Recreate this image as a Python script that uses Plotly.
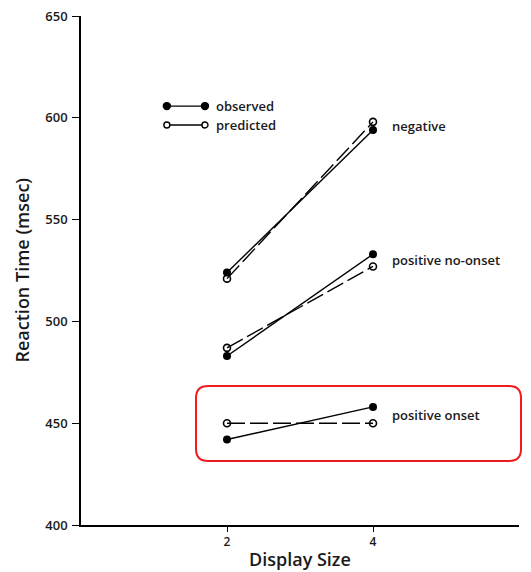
import plotly.graph_objects as go

display_sizes = [2, 4]
negative_observed = [524, 594]
negative_predicted = [521, 598]
no_onset_observed = [483, 533]
no_onset_predicted = [487, 527]
onset_observed = [442, 458]
onset_predicted = [450, 450]

condition_names = ["negative", "positive no-onset", "positive onset"]
observed_series = [negative_observed, no_onset_observed, onset_observed]
predicted_series = [negative_predicted, no_onset_predicted, onset_predicted]

y_ticks = [400, 450, 500, 550, 600, 650]
x_ticks = [2, 4]

FONT = "Open Sans, Liberation Sans, Arial, sans-serif"
TXT = "#1a1a1a"

fig = go.Figure()

for name, obs, pred in zip(condition_names, observed_series, predicted_series):
    fig.add_trace(go.Scatter(
        x=display_sizes, y=pred, mode="lines+markers", name=name + " predicted",
        line=dict(color="black", width=1.4, dash="18px,5px"),
        marker=dict(symbol="circle-open", size=7, color="black", line=dict(width=1.6)),
        showlegend=False, cliponaxis=False))
    fig.add_trace(go.Scatter(
        x=display_sizes, y=obs, mode="lines+markers", name=name + " observed",
        line=dict(color="black", width=1.4),
        marker=dict(symbol="circle", size=8, color="black"),
        showlegend=False, cliponaxis=False))
    fig.add_annotation(
        x=display_sizes[1], y=(obs[1] + pred[1]) / 2, text=name,
        xref="x", yref="y", xanchor="left", yanchor="middle", xshift=17,
        showarrow=False, font=dict(family=FONT, size=13, color=TXT, weight=600))

# custom legend (observed / predicted)
legend_rows = [("observed", "circle", 0.823), ("predicted", "circle-open", 0.786)]
for label, sym, yp in legend_rows:
    fig.add_shape(type="line", xref="paper", yref="paper",
                  x0=0.196, x1=0.283, y0=yp, y1=yp,
                  line=dict(color="black", width=1.4))
    for xp in (0.196, 0.283):
        filled = sym == "circle"
        r = 3.5 if filled else 3
        fig.add_shape(type="circle", xref="paper", yref="paper",
                      xsizemode="pixel", ysizemode="pixel",
                      xanchor=xp, yanchor=yp, x0=-r, x1=r, y0=-r, y1=r,
                      fillcolor="black" if filled else "white",
                      line=dict(color="black", width=1.4))
    fig.add_annotation(x=0.304, y=yp, xref="paper", yref="paper", text=label,
                       xanchor="left", yanchor="middle", showarrow=False,
                       font=dict(family=FONT, size=13, color=TXT, weight=600))

# red rounded highlight box (paper coords)
x0, x1, y0, y1 = 0.2626, 1.0046, 0.1257, 0.273
rx, ry = 0.0274, 0.0236
path = (f"M {x0+rx},{y1} L {x1-rx},{y1} Q {x1},{y1} {x1},{y1-ry} "
        f"L {x1},{y0+ry} Q {x1},{y0} {x1-rx},{y0} "
        f"L {x0+rx},{y0} Q {x0},{y0} {x0},{y0+ry} "
        f"L {x0},{y1-ry} Q {x0},{y1} {x0+rx},{y1} Z")
fig.add_shape(type="path", xref="paper", yref="paper", path=path,
              line=dict(color="#ee1c1c", width=2))

# axis titles as annotations for exact placement
fig.add_annotation(x=0.5, y=0, xref="paper", yref="paper", text="Display Size",
                   xanchor="center", yanchor="middle", yshift=-34, showarrow=False,
                   font=dict(family=FONT, size=18, color=TXT, weight=600))
fig.add_annotation(x=0, y=0.5, xref="paper", yref="paper", text="Reaction Time (msec)",
                   xanchor="center", yanchor="middle", xshift=-60, textangle=-90,
                   showarrow=False,
                   font=dict(family=FONT, size=18, color=TXT, weight=600))

# page body has an 8px default margin: compensate via figure size / margins
fig.update_layout(
    width=523, height=564,
    margin=dict(l=73, r=12, t=8, b=47, autoexpand=False),
    paper_bgcolor="white", plot_bgcolor="white",
    font=dict(family=FONT, color=TXT),
    showlegend=False,
)
fig.update_xaxes(
    range=[0, 6], tickvals=x_ticks, ticktext=[str(t) for t in x_ticks],
    automargin=False,
    showline=True, linecolor="black", linewidth=1.5,
    ticks="outside", ticklen=5, tickwidth=1.3, tickcolor="black",
    showgrid=False, zeroline=False,
    tickfont=dict(family=FONT, size=12, color=TXT, weight=600),
)
fig.update_yaxes(
    range=[400, 650], tickvals=y_ticks,
    automargin=False,
    showline=True, linecolor="black", linewidth=1.5,
    ticks="outside", ticklen=7, tickwidth=1.3, tickcolor="black",
    ticklabelstandoff=2, ticklabeloverflow="allow",
    showgrid=False, zeroline=False,
    tickfont=dict(family=FONT, size=13, color=TXT, weight=600),
)

fig.write_html("out.html")
